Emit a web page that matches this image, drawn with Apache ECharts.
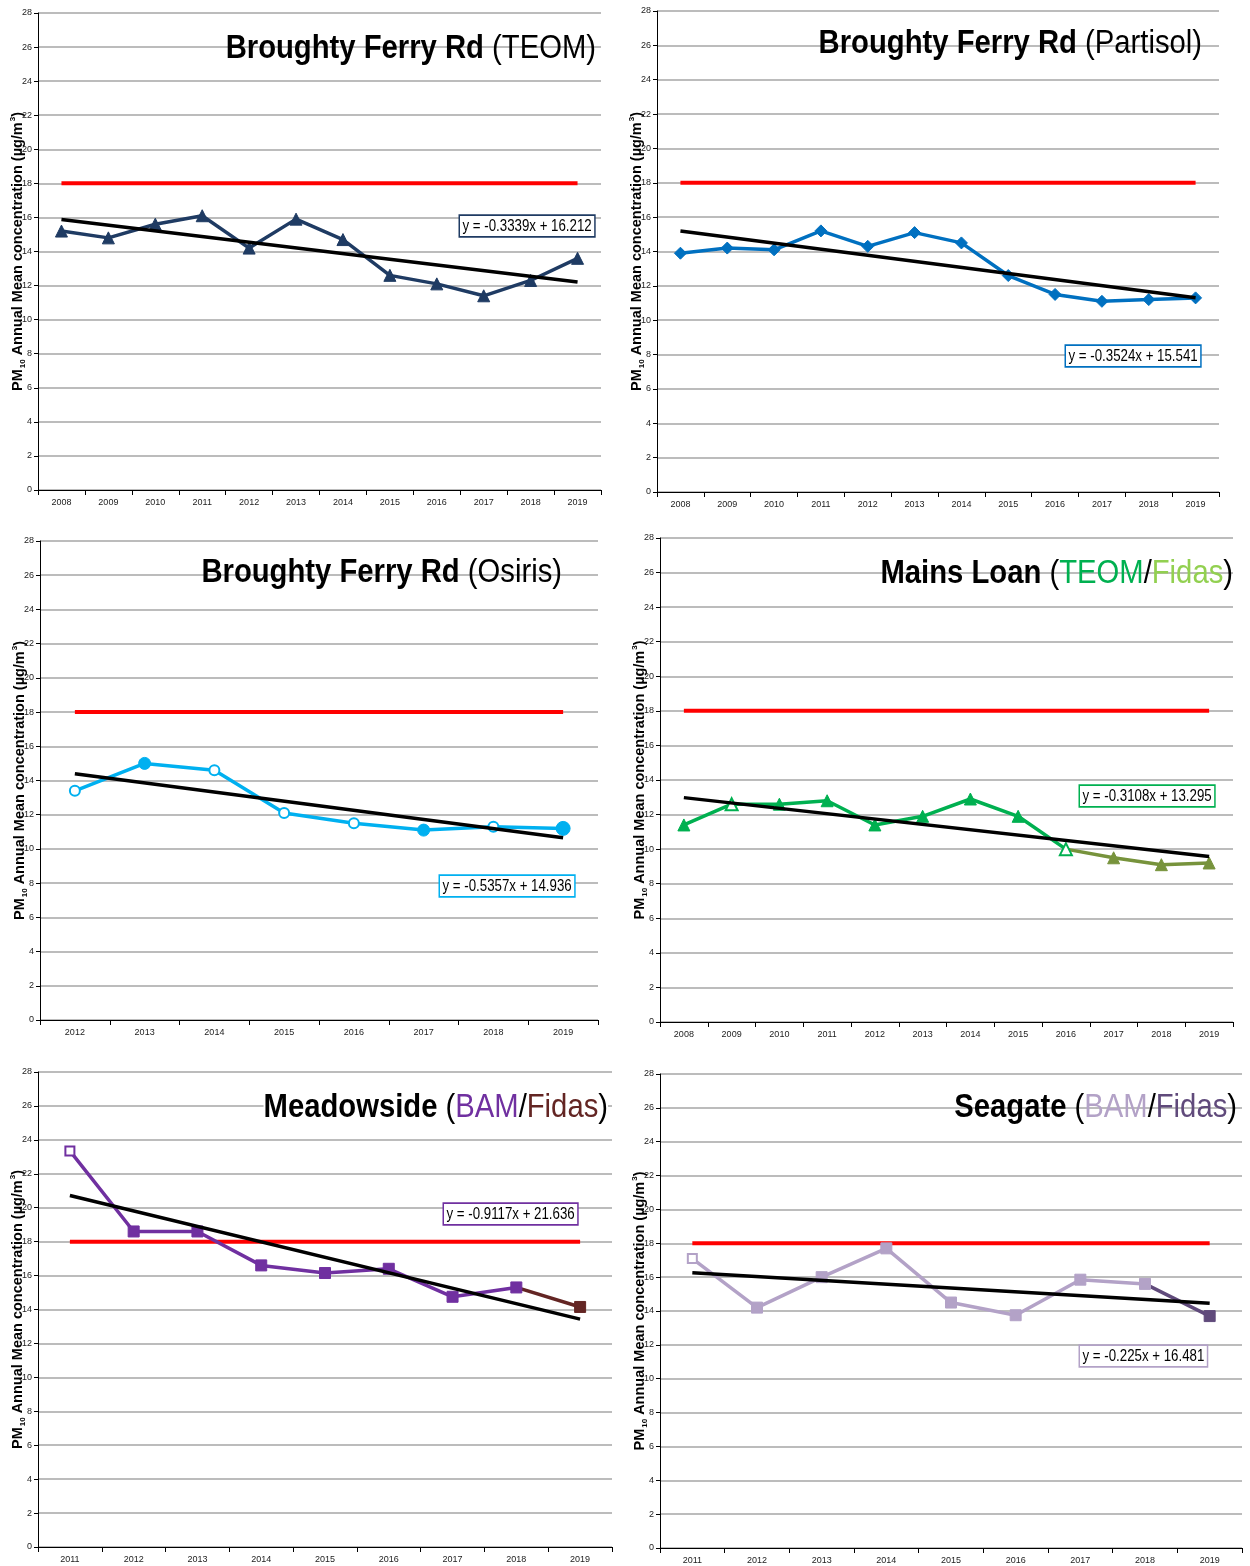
<!DOCTYPE html>
<html>
<head>
<meta charset="utf-8">
<title>PM10 annual mean trends</title>
<script src="https://cdn.jsdelivr.net/npm/echarts@6/dist/echarts.min.js"></script>
<style>
    html, body { margin: 0; padding: 0; background: #fff; }
    #main { width: 1250px; height: 1566px; }
</style>
</head>
<body>
<div id="main"></div>
<script>
// categories
var years0819 = ['2008', '2009', '2010', '2011', '2012', '2013', '2014', '2015', '2016', '2017', '2018', '2019'];
var years1219 = ['2012', '2013', '2014', '2015', '2016', '2017', '2018', '2019'];
var years1119 = ['2011', '2012', '2013', '2014', '2015', '2016', '2017', '2018', '2019'];

// y axis ticks 0..28 step 2
var yMin = 0, yMax = 28, yStep = 2;
var limitValue = 18;

// Broughty Ferry Rd (TEOM)
var bfrTeom = [15.2, 14.8, 15.6, 16.1, 14.2, 15.9, 14.7, 12.6, 12.1, 11.4, 12.3, 13.6];
var bfrTeomTrend = [15.88, 12.21];
// Broughty Ferry Rd (Partisol)
var bfrPartisol = [13.9, 14.2, 14.1, 15.2, 14.3, 15.1, 14.5, 12.6, 11.5, 11.1, 11.2, 11.3];
var bfrPartisolTrend = [15.19, 11.31];
// Broughty Ferry Rd (Osiris)
var bfrOsiris = [13.4, 15.0, 14.6, 12.1, 11.5, 11.1, 11.3, 11.2];
var bfrOsirisFilled = [false, true, false, false, false, true, false, true];
var bfrOsirisTrend = [14.4, 10.65];
// Mains Loan (TEOM/Fidas)
var mainsTeom = [11.4, 12.6, 12.6, 12.8, 11.4, 11.9, 12.9, 11.9, 10.0, null, null, null];
var mainsFidas = [null, null, null, null, null, null, null, null, 10.0, 9.5, 9.1, 9.2];
var mainsHollow = [1, 8];
var mainsTrend = [12.98, 9.57];
// Meadowside (BAM/Fidas)
var meadBam = [23.35, 18.6, 18.6, 16.6, 16.15, 16.4, 14.75, 15.3, null];
var meadFidas = [null, null, null, null, null, null, null, 15.3, 14.15];
var meadTrend = [20.72, 13.43];
// Seagate (BAM/Fidas)
var seaBam = [17.1, 14.2, 16.0, 17.7, 14.5, 13.75, 15.85, 15.6, null];
var seaFidas = [null, null, null, null, null, null, null, 15.6, 13.7];
var seaTrend = [16.26, 14.46];

var font = "'Liberation Sans', Arial, sans-serif";

// plot areas in px
var grids = [
    {left: 38, top: 13, width: 563, height: 477},
    {left: 657, top: 11, width: 562, height: 481},
    {left: 40, top: 541, width: 558, height: 479},
    {left: 660, top: 538, width: 573, height: 484},
    {left: 38, top: 1072, width: 574, height: 475},
    {left: 660, top: 1074, width: 582, height: 474}
];
var panelCats = [years0819, years0819, years1219, years0819, years1119, years1119];

function endsOnly(cats, a, b) {
    return cats.map(function (c, i) {
        if (i === 0) return a;
        if (i === cats.length - 1) return b;
        return null;
    });
}

var option = {
    backgroundColor: '#fff',
    animation: false,
    grid: [],
    xAxis: [],
    yAxis: [],
    graphic: [],
    series: []
};

grids.forEach(function (g, i) {
    option.grid.push({left: g.left, top: g.top, width: g.width, height: g.height, containLabel: false});
    option.xAxis.push({
        type: 'category',
        gridIndex: i,
        data: panelCats[i],
        boundaryGap: true,
        axisLine: {show: true, lineStyle: {color: '#000', width: 1}},
        axisTick: {show: true, length: 5, lineStyle: {color: '#000'}},
        axisLabel: {fontSize: 9, color: '#222', margin: 8, fontFamily: font}
    });
    option.yAxis.push({
        type: 'value',
        gridIndex: i,
        min: yMin, max: yMax, interval: yStep,
        name: '{a|PM}{s|10}{a| Annual Mean concentration (µg/m}{p|3}{a|)}',
        nameLocation: 'middle',
        nameRotate: 90,
        nameGap: 11,
        nameMoveOverlap: false,
        nameTextStyle: {
            rich: {
                a: {fontSize: 14.5, fontWeight: 'bold', color: '#000', fontFamily: font, lineHeight: 18},
                s: {fontSize: 8, fontWeight: 'bold', color: '#000', fontFamily: font, lineHeight: 18, verticalAlign: 'bottom', padding: [7, 0, 0, 1]},
                p: {fontSize: 8, fontWeight: 'bold', color: '#000', fontFamily: font, lineHeight: 18, verticalAlign: 'top', padding: [0, 0, 6, 1]}
            }
        },
        axisLine: {show: true, lineStyle: {color: '#000', width: 1}},
        axisTick: {show: true, length: 4, lineStyle: {color: '#000'}},
        axisLabel: {fontSize: 9, color: '#222', margin: 6, fontFamily: font},
        splitLine: {show: true, lineStyle: {color: '#a6a6a6', width: 1.5}}
    });
    // red limit line
    option.series.push({
        type: 'line', xAxisIndex: i, yAxisIndex: i,
        data: endsOnly(panelCats[i], limitValue, limitValue),
        connectNulls: true, symbol: 'none', silent: true,
        lineStyle: {color: '#ff0000', width: 4}
    });
});

function dataSeries(i, values, color, symbol, size) {
    return {
        type: 'line', xAxisIndex: i, yAxisIndex: i,
        data: values,
        symbol: symbol, symbolSize: size,
        lineStyle: {color: color, width: 3.5},
        itemStyle: {color: color, borderColor: color, borderWidth: 1}
    };
}

function trendSeries(i, ends) {
    return {
        type: 'line', xAxisIndex: i, yAxisIndex: i,
        data: endsOnly(panelCats[i], ends[0], ends[1]),
        connectNulls: true, symbol: 'none', z: 5,
        lineStyle: {color: '#000', width: 3.5}
    };
}

// 1 - BFR TEOM
option.series.push(dataSeries(0, bfrTeom, '#1f3b63', 'triangle', 12));
option.series.push(trendSeries(0, bfrTeomTrend));
// 2 - BFR Partisol
option.series.push(dataSeries(1, bfrPartisol, '#0070c0', 'diamond', 12));
option.series.push(trendSeries(1, bfrPartisolTrend));
// 3 - BFR Osiris
option.series.push(dataSeries(2, bfrOsiris.map(function (v, k) {
    if (bfrOsirisFilled[k]) return {value: v, symbol: 'circle', symbolSize: k === bfrOsiris.length - 1 ? 14 : 12};
    return {value: v, symbol: 'circle', symbolSize: 10, itemStyle: {color: '#fff', borderColor: '#00b0f0', borderWidth: 2}};
}), '#00b0f0', 'circle', 12));
option.series.push(trendSeries(2, bfrOsirisTrend));
// 4 - Mains Loan
option.series.push(dataSeries(3, mainsFidas.map(function (v, k) {
    return k === 8 ? {value: v, symbol: 'none'} : v;
}), '#77933c', 'triangle', 12));
option.series.push(dataSeries(3, mainsTeom.map(function (v, k) {
    if (mainsHollow.indexOf(k) >= 0) return {value: v, itemStyle: {color: '#fff', borderColor: '#00b050', borderWidth: 2}};
    return v;
}), '#00b050', 'triangle', 12));
option.series.push(trendSeries(3, mainsTrend));
// 5 - Meadowside
option.series.push(dataSeries(4, meadFidas.map(function (v, k) {
    return k === 7 ? {value: v, symbol: 'none'} : v;
}), '#632523', 'rect', 11));
option.series.push(dataSeries(4, meadBam.map(function (v, k) {
    if (k === 0) return {value: v, symbolSize: 9, itemStyle: {color: '#fff', borderColor: '#7030a0', borderWidth: 2}};
    return v;
}), '#7030a0', 'rect', 11));
option.series.push(trendSeries(4, meadTrend));
// 6 - Seagate
option.series.push(dataSeries(5, seaFidas.map(function (v, k) {
    return k === 7 ? {value: v, symbol: 'none'} : v;
}), '#604a7b', 'rect', 11));
option.series.push(dataSeries(5, seaBam.map(function (v, k) {
    if (k === 0) return {value: v, symbolSize: 9, itemStyle: {color: '#fff', borderColor: '#b3a2c7', borderWidth: 2}};
    return v;
}), '#b3a2c7', 'rect', 11));
option.series.push(trendSeries(5, seaTrend));

// panel titles (condensed with scaleX, no narrow font installed)
var tfs = 34;
var titleRich = {
    b: {fontSize: tfs, fontWeight: 'bold', fill: '#000', fontFamily: font},
    n: {fontSize: tfs, fontWeight: 'normal', fill: '#000', fontFamily: font},
    teom: {fontSize: tfs, fill: '#00b050', fontFamily: font},
    fidasG: {fontSize: tfs, fill: '#92d050', fontFamily: font},
    bam: {fontSize: tfs, fill: '#7030a0', fontFamily: font},
    fidasB: {fontSize: tfs, fill: '#632523', fontFamily: font},
    bamL: {fontSize: tfs, fill: '#b3a2c7', fontFamily: font},
    fidasD: {fontSize: tfs, fill: '#604a7b', fontFamily: font}
};
var titles = [
    {text: '{b|Broughty Ferry Rd }{n|(TEOM)}', x: 596, y: 49},
    {text: '{b|Broughty Ferry Rd }{n|(Partisol)}', x: 1202, y: 44},
    {text: '{b|Broughty Ferry Rd }{n|(Osiris)}', x: 562, y: 573},
    {text: '{b|Mains Loan }{n|(}{teom|TEOM}{n|/}{fidasG|Fidas}{n|)}', x: 1233, y: 574},
    {text: '{b|Meadowside }{n|(}{bam|BAM}{n|/}{fidasB|Fidas}{n|)}', x: 608, y: 1108, bg: '#fff'},
    {text: '{b|Seagate }{n|(}{bamL|BAM}{n|/}{fidasD|Fidas}{n|)}', x: 1237, y: 1108}
];
titles.forEach(function (t) {
    option.graphic.push({
        type: 'text', x: t.x, y: t.y, scaleX: 0.86, z: 50,
        style: {
            text: t.text, rich: titleRich,
            align: 'right', verticalAlign: 'middle',
            backgroundColor: t.bg || null
        }
    });
});

// trendline equation boxes
var boxes = [
    {text: 'y = -0.3339x + 16.212', x: 460, y: 216, color: '#1f3b63'},
    {text: 'y = -0.3524x + 15.541', x: 1066, y: 346, color: '#0070c0'},
    {text: 'y = -0.5357x + 14.936', x: 440, y: 876, color: '#00b0f0'},
    {text: 'y = -0.3108x + 13.295', x: 1080, y: 786, color: '#00b050'},
    {text: 'y = -0.9117x + 21.636', x: 444, y: 1204, color: '#7030a0'},
    {text: 'y = -0.225x + 16.481', x: 1080, y: 1346, color: '#b3a2c7'}
];
boxes.forEach(function (b) {
    option.graphic.push({
        type: 'text', x: b.x, y: b.y, scaleX: 0.83, z: 60,
        style: {
            text: b.text, fill: '#000',
            fontSize: 16, fontFamily: font,
            align: 'left', verticalAlign: 'top',
            padding: [3, 3, 1, 3],
            backgroundColor: '#fff',
            borderColor: b.color, borderWidth: 1.8
        }
    });
});

var chart = echarts.init(document.getElementById('main'), null, {renderer: 'canvas'});
chart.setOption(option);
</script>
</body>
</html>
